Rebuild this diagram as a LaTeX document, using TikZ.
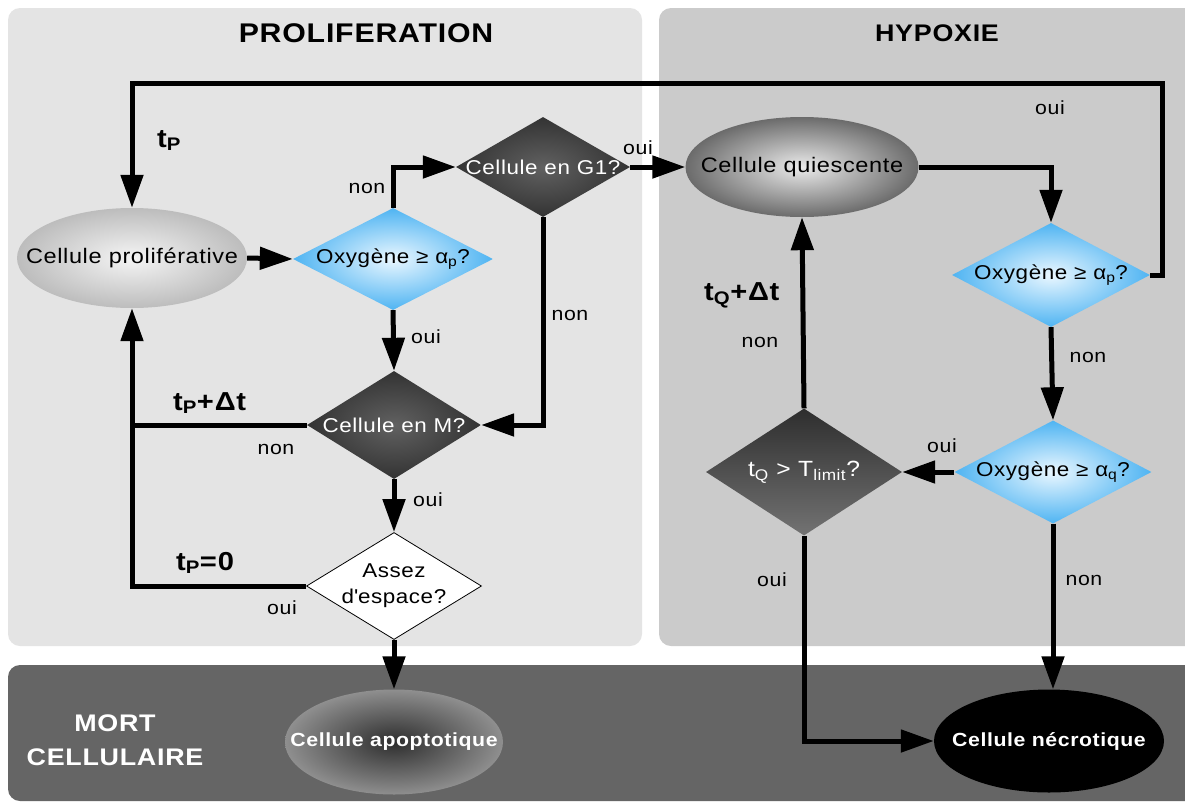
\documentclass[tikz,border=0pt]{standalone}
\usepackage{fontspec}
\setmainfont{Liberation Sans}[FakeStretch=1.12,LetterSpace=3]
\usetikzlibrary{shapes.geometric,arrows.meta}
\definecolor{prolbg}{HTML}{E4E4E4}
\definecolor{hypbg}{HTML}{CBCBCB}
\definecolor{mortbg}{HTML}{656565}
\definecolor{blueout}{HTML}{4FB4F2}
\definecolor{bluein}{HTML}{EAF7FF}
\begin{document}
\begin{tikzpicture}[x=1pt,y=-1pt,
  panel/.style={rounded corners=12pt},
  arr/.style={line width=5pt,-{Triangle[length=33pt,width=22pt]}},
  plain/.style={line width=5pt},
  bluedia/.style={diamond,inner sep=0pt,shading=radial,inner color=bluein,outer color=blueout},
  dkdia/.style={diamond,inner sep=0pt,shading=radial,inner color=black!62,outer color=black!80},
  ell/.style={ellipse,inner sep=0pt},
  txt/.style={font=\fontsize{20}{26}\selectfont,inner sep=0pt,align=center},
  etxt/.style={font=\fontsize{21}{26}\selectfont,inner sep=0pt},
  wtxt/.style={txt,text=white},
  btxt/.style={font=\bfseries\fontsize{19}{26}\selectfont,inner sep=0pt,text=white},
  lbl/.style={font=\fontsize{19}{23}\selectfont,inner sep=0pt},
  big/.style={font=\bfseries\fontsize{26}{30}\selectfont,inner sep=0pt,anchor=base west},
  title/.style={font=\bfseries\fontsize{27}{32}\selectfont,inner sep=0pt}]
\useasboundingbox (0,0) rectangle (1185,803);
\clip (0,0) rectangle (1185,803);
\fill[white] (0,0) rectangle (1185,803);
% panels
\fill[panel,prolbg] (8,8) rectangle (642,646);
\fill[panel,hypbg] (659,8) rectangle (1200,646);
\fill[panel,mortbg] (8,665) rectangle (1200,801);
\node[title] (tprol) at (366,33) {PROLIFERATION};
\node[title,font=\bfseries\fontsize{24}{30}\selectfont] (thyp) at (937,33) {HYPOXIE};
\node[font=\bfseries\fontsize{24}{34}\selectfont,text=white,align=center,inner sep=0pt] (tmort) at (115,740) {MORT\\CELLULAIRE};
% nodes
\node[ell,minimum width=230,minimum height=100,shading=radial,inner color=black!4,outer color=black!26] (prolif) at (132,258) {};
\node[etxt] (prolift) at (prolif) {Cellule prolif\'erative};
\node[bluedia,minimum width=200,minimum height=102] (ox1) at (393,259) {};
\node[txt] (ox1t) at (ox1) {Oxyg\`ene ≥ α\textsubscript{p}?};
\node[dkdia,minimum width=174,minimum height=100] (g1) at (543,167) {};
\node[wtxt] (g1t) at (g1) {Cellule en G1?};
\node[dkdia,minimum width=174,minimum height=108] (cm) at (394,425) {};
\node[wtxt] (cmt) at (cm) {Cellule en M?};
\node[diamond,inner sep=0pt,draw=black,line width=0.8pt,fill=white,minimum width=175,minimum height=107] (assez) at (394,586) {};
\node[txt] (assezt) at (assez) {Assez\\d\textquotesingle espace?};
\node[ell,minimum width=218,minimum height=105,shading=radial,inner color=black!82,outer color=black!44] (apop) at (394,742) {};
\node[btxt] (apopt) at (apop) {Cellule apoptotique};
\node[ell,minimum width=233,minimum height=100,shading=radial,inner color=black!8,outer color=black!58] (quies) at (802,167) {};
\node[etxt] (quiest) at (quies) {Cellule quiescente};
\node[bluedia,minimum width=198,minimum height=104] (ox2) at (1051,275) {};
\node[txt] (ox2t) at (ox2) {Oxyg\`ene ≥ α\textsubscript{p}?};
\node[bluedia,minimum width=197,minimum height=103] (oxq) at (1053,472) {};
\node[txt] (oxqt) at (oxq) {Oxyg\`ene ≥ α\textsubscript{q}?};
\node[diamond,inner sep=0pt,shading=axis,top color=black!82,bottom color=black!55,minimum width=196,minimum height=127] (tq) at (804,472) {};
\node[wtxt,font=\fontsize{22}{26}\selectfont] (tqt) at (tq) {t\textsubscript{Q} > T\textsubscript{limit}?};
\node[ell,fill=black,minimum width=230,minimum height=103] (necro) at (1049,741) {};
\node[btxt] (necrot) at (necro) {Cellule n\'ecrotique};
% coordinates
\coordinate (tr) at (1162,83);
% connectors
\draw[arr] (ox2.east) -| (tr) -| (prolif.north);
\draw[arr] (prolif.east) -- (ox1.west);
\draw[arr] (ox1.north) |- (g1.west);
\draw[arr] (g1.east) -- (quies.west);
\draw[arr] (g1.south) |- (cm.east);
\draw[arr] (ox1.south) -- (cm.north);
\draw[arr] (cm.west) -| (prolif.south);
\draw[plain] (assez.west) -| (cm.west -| prolif.south);
\draw[arr] (cm.south) -- (assez.north);
\draw[arr] (assez.south) -- (apop.north);
\draw[arr] (quies.east) -| (ox2.north);
\draw[arr] (ox2.south) -- (oxq.north);
\draw[arr] (oxq.west) -- (tq.east);
\draw[arr] (tq.north) -- (quies.south);
\draw[arr] (tq.south) |- (necro.west);
\draw[arr] (oxq.south) -- (oxq.south |- necro.north);
% labels
\node[lbl] (l1) at (1050,108) {oui};
\node[big] (l2) at (157,147) {t\textsubscript{P}};
\node[lbl] (l3) at (367,188) {non};
\node[lbl] (l4) at (638,148) {oui};
\node[lbl] (l5) at (570,315) {non};
\node[lbl] (l6) at (426,337) {oui};
\node[big] (l7) at (173,410) {t\textsubscript{P}+Δt};
\node[lbl] (l8) at (276,449) {non};
\node[lbl] (l9) at (428,500) {oui};
\node[big] (l10) at (176,570) {t\textsubscript{P}=0};
\node[lbl] (l11) at (282,608) {oui};
\node[big] (l12) at (704,300) {t\textsubscript{Q}+Δt};
\node[lbl] (l13) at (760,342) {non};
\node[lbl] (l14) at (1088,357) {non};
\node[lbl] (l15) at (942,446) {oui};
\node[lbl] (l16) at (772,580) {oui};
\node[lbl] (l17) at (1084,580) {non};
\end{tikzpicture}
\end{document}
